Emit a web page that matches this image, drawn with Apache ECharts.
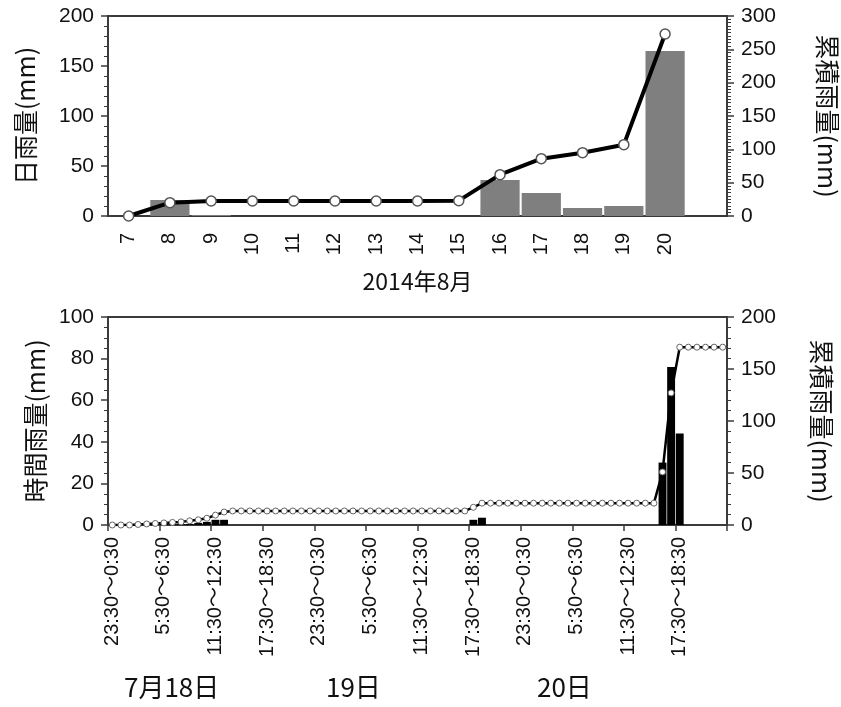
<!DOCTYPE html>
<html>
<head>
<meta charset="utf-8">
<script src="https://cdn.jsdelivr.net/npm/echarts@6/dist/echarts.min.js"></script>
<style>html,body{margin:0;padding:0;background:#fff}#c{width:841px;height:707px}</style>
</head>
<body>
<div id="c"></div>
<script>
// ---- Top chart: daily rainfall, August 2014 ----
const dayLabels = ['7','8','9','10','11','12','13','14','15','16','17','18','19','20',''];
const dailyRain = [0, 16, 1, 0, 0, 0, 0, 0, 0, 36, 23, 8, 10, 165, null];
const dailyCumulative = [0, 20, 22.5, 22.5, 22.5, 22.5, 22.5, 22.5, 23, 62, 86, 95, 107, 273, null];

// ---- Bottom chart: hourly rainfall, 18-20 July ----
const hourStarts = [23,0,1,2,3,4,5,6,7,8,9,10,11,12,13,14,15,16,17,18,19,20,21,22];
const dayNames = ['7月18日', '19日', '20日'];
const hourlyRain = [
  0,0,0,0.5,0.5,0.5,0.5,0.5,0.5,0.5,1,1.5,2.5,2.5,0,0,0,0,0,0,0,0,0,0,
  0,0,0,0,0,0,0,0,0,0,0,0,0,0,0,0,0,0,2.5,3.5,0,0,0,0,
  0,0,0,0,0,0,0,0,0,0,0,0,0,0,0,0,30,76,44,0,0,0,0,0
];
const hourlyCumulative = [
  0,0,0,0.5,1,1.5,2,2.5,3,4,5,6.5,9.5,12.5,13.5,13.5,13.5,13.5,13.5,13.5,13.5,13.5,13.5,13.5,
  13.5,13.5,13.5,13.5,13.5,13.5,13.5,13.5,13.5,13.5,13.5,13.5,13.5,13.5,13.5,13.5,13.5,13.5,17,21,21,21,21,21,
  21,21,21,21,21,21,21,21,21,21,21,21,21,21,21,21,51,127,171,171,171,171,171,171
];

const hourLabels = [];
for (let d = 0; d < 3; d++) {
  for (const h of hourStarts) hourLabels.push(h + ':30～' + ((h + 1) % 24) + ':30');
}

const FONT = '"Liberation Sans", "Noto Sans CJK JP", sans-serif';
const CJK = '"Noto Sans CJK JP", "Liberation Sans", sans-serif';
const AX = '#3a3a3a';
const TXT = '#111';

function yAxis(opts) {
  return Object.assign({
    type: 'value',
    splitLine: { show: false },
    axisLine: { show: true, lineStyle: { color: AX, width: 1.8 } },
    axisTick: { show: true, inside: false, length: 7, lineStyle: { color: AX, width: 1.5 } },
    minorTick: { show: true, length: 4, lineStyle: { color: AX, width: 1 } },
    axisLabel: { fontSize: 21, color: TXT, fontFamily: FONT, margin: 14 },
    nameLocation: 'middle',
    nameTextStyle: { fontSize: 25, color: TXT, fontFamily: CJK }
  }, opts);
}

const chart = echarts.init(document.getElementById('c'), null, { renderer: 'canvas' });
chart.setOption({
  animation: false,
  backgroundColor: '#fff',
  grid: [
    { left: 108, top: 16, width: 619, height: 200, show: true, borderColor: AX, borderWidth: 1.8, backgroundColor: 'transparent', containLabel: false, outerBoundsMode: 'none' },
    { left: 108, top: 317, width: 619, height: 208, show: true, borderColor: AX, borderWidth: 1.8, backgroundColor: 'transparent', containLabel: false, outerBoundsMode: 'none' }
  ],
  xAxis: [
    {
      type: 'category', gridIndex: 0, data: dayLabels, boundaryGap: true,
      axisLine: { lineStyle: { color: AX, width: 1.8 } },
      axisTick: { show: false },
      axisLabel: { rotate: 90, fontSize: 20, color: TXT, fontFamily: FONT, margin: 17, interval: 0 },
      name: '2014年8月', nameLocation: 'middle', nameGap: 54,
      nameTextStyle: { fontSize: 23, color: TXT, fontFamily: CJK }
    },
    {
      type: 'category', gridIndex: 1, data: hourLabels, boundaryGap: true,
      axisLine: { lineStyle: { color: AX, width: 1.8 } },
      axisTick: { show: true, interval: 5, length: 6, lineStyle: { color: AX, width: 1.5 } },
      axisLabel: { rotate: 90, fontSize: 20, color: TXT, fontFamily: FONT, margin: 12, interval: 5 }
    }
  ],
  yAxis: [
    yAxis({ gridIndex: 0, min: 0, max: 200, interval: 50, minorTick: { show: true, splitNumber: 5, length: 4, lineStyle: { color: AX, width: 1 } },
      name: '日雨量(mm)', nameRotate: 90, nameGap: 70 }),
    yAxis({ gridIndex: 0, position: 'right', min: 0, max: 300, interval: 50, minorTick: { show: true, splitNumber: 10, length: 4, lineStyle: { color: AX, width: 1 } },
      name: '累積雨量(mm)', nameRotate: -90, nameGap: 88 }),
    yAxis({ gridIndex: 1, min: 0, max: 100, interval: 20, minorTick: { show: true, splitNumber: 4, length: 4, lineStyle: { color: AX, width: 1 } },
      name: '時間雨量(mm)', nameRotate: 90, nameGap: 57 }),
    yAxis({ gridIndex: 1, position: 'right', min: 0, max: 200, interval: 50, minorTick: { show: true, splitNumber: 5, length: 4, lineStyle: { color: AX, width: 1 } },
      name: '累積雨量(mm)', nameRotate: -90, nameGap: 82 })
  ],
  series: [
    {
      type: 'bar', xAxisIndex: 0, yAxisIndex: 0, data: dailyRain,
      barCategoryGap: '5%', itemStyle: { color: '#7f7f7f' }, z: 2
    },
    {
      type: 'line', xAxisIndex: 0, yAxisIndex: 1, data: dailyCumulative,
      lineStyle: { color: '#000', width: 4 }, symbol: 'circle', symbolSize: 10, showAllSymbol: true,
      itemStyle: { color: '#fff', borderColor: '#555', borderWidth: 1.5 }, z: 3
    },
    {
      type: 'bar', xAxisIndex: 1, yAxisIndex: 2, data: hourlyRain,
      barCategoryGap: '8%', itemStyle: { color: '#000' }, z: 2
    },
    {
      type: 'line', xAxisIndex: 1, yAxisIndex: 3, data: hourlyCumulative,
      lineStyle: { color: '#000', width: 2.5 }, symbol: 'circle', symbolSize: 6, showAllSymbol: true,
      itemStyle: { color: '#fff', borderColor: '#666', borderWidth: 1 }, z: 3
    }
  ],
  graphic: [
    { type: 'text', left: 172 - 48, top: 674, style: { text: dayNames[0], font: '26px ' + CJK, fill: TXT } },
    { type: 'text', left: 353 - 27, top: 674, style: { text: dayNames[1], font: '26px ' + CJK, fill: TXT } },
    { type: 'text', left: 564 - 27, top: 674, style: { text: dayNames[2], font: '26px ' + CJK, fill: TXT } }
  ]
});
</script>
</body>
</html>
